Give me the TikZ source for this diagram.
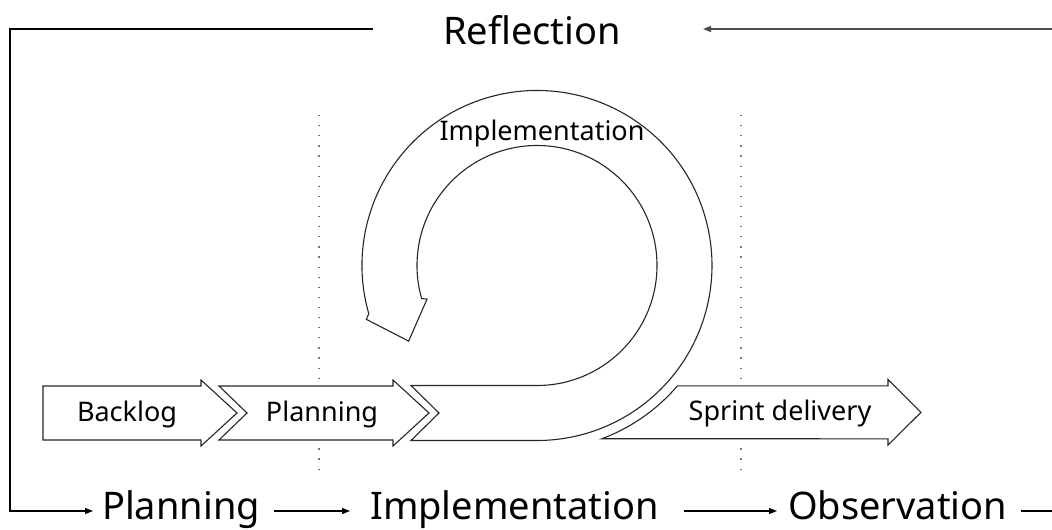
\documentclass[tikz,border=0pt]{standalone}
\usepackage{fontspec}
\setmainfont{Noto Sans}
\usetikzlibrary{arrows.meta,calc}
\begin{document}
\begin{tikzpicture}[x=1pt,y=-1pt,
  shp/.style={draw=black!85,line width=1.1pt,fill=white,line join=miter},
  conn/.style={draw=black,line width=1.2pt},
  arr/.style={conn,-{Triangle[length=8pt,width=6pt]}},
  big/.style={font=\fontsize{38}{44}\selectfont,inner sep=0pt},
  small/.style={font=\fontsize{27}{32}\selectfont,inner sep=0pt},
  dots/.style={draw=black!55,line width=1.2pt,dash pattern=on 1.2pt off 8.9pt}]
\useasboundingbox (0,0) rectangle (1052,530);
% dotted separators
\draw[dots] (319,115) -- (319,478);
\draw[dots] (741,115) -- (741,478);
% Backlog arrow
\draw[shp] (43,386) -- (201,386) -- (201,380) -- (237,413) -- (201,446) -- (201,440) -- (43,440) -- cycle;
% Planning chevron
\draw[shp] (219,386) -- (393,386) -- (393,380) -- (429,413) -- (393,446) -- (393,440) -- (219,440) -- (247,413) -- cycle;
% Loop
\coordinate (C) at (537,265.5);
\draw[shp] (411,385.5) -- (537,385.5) arc[start angle=90, end angle=-196, radius=120]
  -- ($(C)+(-197:115)$) -- ($(C)+(-210.5:149)$) -- ($(C)+(-197.5:179)$) -- ($(C)+(-196:175)$)
  arc[start angle=-196, end angle=90, radius=175] -- (411,440.5) -- (439,413) -- cycle;
% Sprint delivery
\draw[shp] ($(C)+(69.5:185)$) arc[start angle=69.5, end angle=40.6, radius=185]
  -- (888,385.9) -- (888,379.5) -- (921,412.3) -- (888,445) -- (888,438.8) -- cycle;
% small labels
\node[small,anchor=base] (backlog) at (127,421) {Backlog};
\node[small,anchor=base] (planS) at (322,421) {Planning};
\node[small,anchor=base] (sprint) at (780,420) {Sprint delivery};
\node[small,anchor=base] (implS) at (542,140) {Implementation};
% big labels
\node[big,anchor=base] (refl) at (532,44) {Reflection};
\node[big,anchor=base west] (plan) at (102,519) {Planning};
\node[big,anchor=base west] (impl) at (370,519) {Implementation};
\node[big,anchor=base west] (obs) at (788,519) {Observation};
% connectors
\coordinate (corner) at (10,29);
\coordinate (tr) at (1052,29);
\coordinate (br) at (1052,511);
\draw[arr] ([xshift=-70pt,yshift=15pt]refl.base west) -- (corner) |- ([xshift=-9pt,yshift=8pt]plan.base west);
\draw[arr] ([xshift=14pt,yshift=8pt]plan.base east) -- ([xshift=-20pt,yshift=8pt]impl.base west);
\draw[arr] ([xshift=25pt,yshift=8pt]impl.base east) -- ([xshift=-11pt,yshift=8pt]obs.base west);
\draw[conn] ([xshift=14pt,yshift=8pt]obs.base east) -- (br);
\draw[arr,draw=black!70,line width=1.6pt] (tr) -- ([xshift=82pt,yshift=15pt]refl.base east);
\end{tikzpicture}
\end{document}
